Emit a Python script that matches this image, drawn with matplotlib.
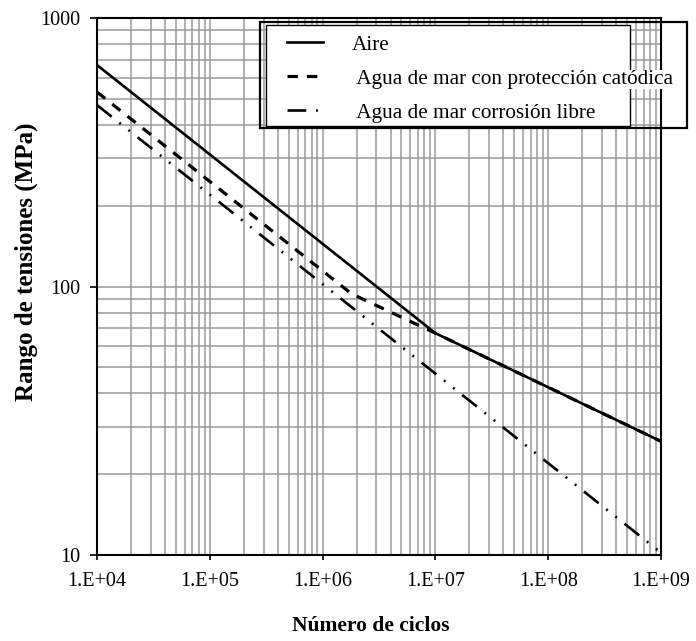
import matplotlib
matplotlib.use("Agg")
import matplotlib.pyplot as plt
import matplotlib.patches as patches
import numpy as np

plt.rcParams['font.family'] = ['Liberation Serif', 'DejaVu Serif']
plt.rcParams['lines.scale_dashes'] = False

# S-N curves (ciclos, MPa)
n_aire = [1e4, 1e7, 1e9]
s_aire = [668, 67, 26.5]
n_cp = [1e4, 1.8e6, 1e7, 1e9]
s_cp = [530, 94, 67, 26.5]
n_libre = [1e4, 1e9]
s_libre = [474, 10.2]

labels = ["Aire", " Agua de mar con protección catódica", " Agua de mar corrosión libre"]
xticks = [1e4, 1e5, 1e6, 1e7, 1e8, 1e9]
xticklabels = ["1.E+04", "1.E+05", "1.E+06", "1.E+07", "1.E+08", "1.E+09"]
yticks = [10, 100, 1000]

W, H = 696, 641
fig = plt.figure(figsize=(W / 100, H / 100), dpi=100)
ax = fig.add_axes([97 / W, 1 - 555 / H, 564 / W, 537 / H])

ax.plot(n_cp, s_cp, color='black', lw=2.3, dashes=(7.5, 6.5), label=labels[1], zorder=3)
ax.plot(n_libre, s_libre, color='black', lw=1.9,
        dashes=(13.5, 7, 1.4, 7, 1.4, 7), label=labels[2], zorder=3)
ax.plot(n_aire, s_aire, color='black', lw=1.9, label=labels[0], zorder=4)

ax.set_xscale('log')
ax.set_yscale('log')
ax.set_xlim(1e4, 1e9)
ax.set_ylim(10, 1000)

ax.set_xticks(xticks)
ax.set_xticklabels(xticklabels)
ax.set_yticks(yticks)
ax.set_yticklabels([str(v) for v in yticks])
ax.tick_params(axis='x', which='major', direction='out', length=3.5, width=1.2,
               labelsize=14.5, pad=9)
ax.tick_params(axis='y', which='major', direction='out', length=5, width=1.2,
               labelsize=14.5, pad=7)
ax.tick_params(axis='both', which='minor', length=0)
ax.xaxis.set_minor_locator(matplotlib.ticker.LogLocator(base=10, subs=np.arange(2, 10)))
ax.yaxis.set_minor_locator(matplotlib.ticker.LogLocator(base=10, subs=np.arange(2, 10)))
ax.xaxis.set_minor_formatter(matplotlib.ticker.NullFormatter())
ax.yaxis.set_minor_formatter(matplotlib.ticker.NullFormatter())

ax.grid(True, which='both', color='#9a9a9a', lw=1.1)
ax.set_axisbelow(True)
for sp in ax.spines.values():
    sp.set_linewidth(1.5)
    sp.set_color('black')

fig.text(371 / W, 1 - 626 / H, "Número de ciclos", fontsize=15.5, fontweight='bold',
         ha='center', va='center')
fig.text(26 / W, 1 - 262 / H, "Rango de tensiones (MPa)", fontsize=18,
         fontweight='bold', rotation=90, ha='center', va='center')

# white inner box of the legend
ax.add_patch(patches.Rectangle((266 / W, 1 - 126 / H), 364 / W, 101 / H,
                               transform=fig.transFigure, facecolor='white',
                               edgecolor='black', lw=1.0, clip_on=False, zorder=4.5))

# legend: order as in the picture
h, l = ax.get_legend_handles_labels()
order = [2, 0, 1]
leg = ax.legend([h[i] for i in order], [l[i] for i in order],
                loc='upper left', bbox_to_anchor=(287 / W, 1 - 35 / H),
                bbox_transform=fig.transFigure, fontsize=15.3,
                handlelength=1.7, handletextpad=1.35, labelspacing=0.66,
                borderpad=0, borderaxespad=0, frameon=False)
leg.set_zorder(5)
leg.get_texts()[1].set_bbox(dict(facecolor='white', edgecolor='none', pad=0))

# outer box drawn around the legend
fig.add_artist(patches.Rectangle((260 / W, 1 - 128 / H), 427 / W, 106 / H,
                                 transform=fig.transFigure, fill=False,
                                 edgecolor='black', lw=1.6, zorder=5))

fig.savefig("out.png", dpi=100)
